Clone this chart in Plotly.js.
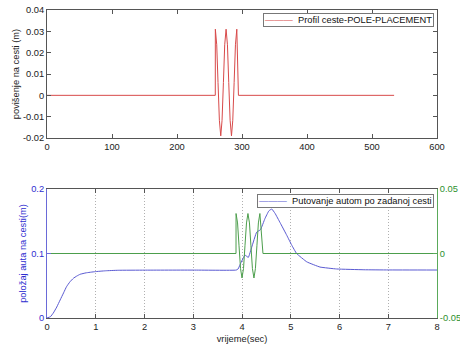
<!DOCTYPE html>
<html>
<head>
<meta charset="utf-8">
<script src="https://cdn.plot.ly/plotly-3.0.1.min.js"></script>
<style>html,body{margin:0;padding:0;background:#fff;}#chart{width:460px;height:347px;}</style>
</head>
<body>
<div id="chart"></div>
<script>
// Top: road profile (sample index vs height)
const roadX = [0, 258.9, 259, 261.1, 263.1, 265.2, 267.3, 269.3, 271.4, 273.4, 275.5, 277.6, 279.6, 281.7, 283.8, 285.8, 287.9, 289.9, 292, 294.5, 534];
const roadY = [0, 0, 0.031, 0.0237, 0.006, -0.0117, -0.019, -0.0117, 0.006, 0.0237, 0.031, 0.0237, 0.006, -0.0117, -0.019, -0.0117, 0.006, 0.0237, 0.031, 0, 0];

// Bottom: car position (left axis)
const carT = [0, 0.07, 0.13, 0.2, 0.27, 0.34, 0.40, 0.47, 0.54, 0.61, 0.68, 0.8, 0.98, 1.2, 1.46, 2, 3, 3.88, 3.92, 3.98, 4.06, 4.13, 4.2, 4.3, 4.38, 4.47, 4.55, 4.61, 4.68, 4.78, 4.92, 5.02, 5.12, 5.33, 5.6, 5.94, 6.5, 7, 8];
const carY = [0, 0.002, 0.0078, 0.017, 0.028, 0.039, 0.0485, 0.056, 0.0615, 0.065, 0.0678, 0.070, 0.0718, 0.0732, 0.0740, 0.0742, 0.0743, 0.0743, 0.076, 0.086, 0.0975, 0.094, 0.11, 0.133, 0.137, 0.154, 0.166, 0.169, 0.162, 0.148, 0.128, 0.113, 0.100, 0.087, 0.079, 0.076, 0.0748, 0.0745, 0.0744];

// Bottom: road profile in time (right axis)
const roadT = [0, 3.877, 3.878, 3.909, 3.939, 3.970, 4.0, 4.031, 4.061, 4.092, 4.122, 4.153, 4.183, 4.214, 4.245, 4.275, 4.306, 4.336, 4.367, 4.43, 8];
const roadTY = [0, 0, 0.031, 0.0237, 0.006, -0.0117, -0.019, -0.0117, 0.006, 0.0237, 0.031, 0.0237, 0.006, -0.0117, -0.019, -0.0117, 0.006, 0.0237, 0.031, 0, 0];

const topYTicks = [-0.02, -0.01, 0, 0.01, 0.02, 0.03, 0.04];
const topYLabels = ['-0.02', '-0.01', '0', '0.01', '0.02', '0.03', '0.04'];
const leftTicks = [0, 0.1, 0.2];
const leftLabels = ['0', '0.1', '0.2'];
const rightTicks = [-0.05, 0, 0.05];
const rightLabels = ['-0.05', '0', '0.05'];
const legendTop = 'Profil ceste-POLE-PLACEMENT';
const legendBottom = 'Putovanje autom po zadanoj cesti';

const FONT = 'Liberation Sans, Arial, sans-serif';
const FS = 9.3;
const blue = '#5a5ad2', green = '#4c9e4c', red = '#d84a4a';

const traces = [
  {x: roadX, y: roadY, xaxis: 'x', yaxis: 'y', type: 'scatter', mode: 'lines',
   line: {color: red, width: 1}, name: legendTop, showlegend: false},
  {x: carT, y: carY, xaxis: 'x2', yaxis: 'y2', type: 'scatter', mode: 'lines',
   line: {color: blue, width: 1, shape: 'spline', smoothing: 0.3}, name: legendBottom, showlegend: false},
  {x: roadT, y: roadTY, xaxis: 'x2', yaxis: 'y3', type: 'scatter', mode: 'lines',
   line: {color: green, width: 1}, showlegend: false}
];

const axCommon = {ticks: 'inside', ticklen: 4, showline: true, zeroline: false, showgrid: false,
  tickfont: {family: FONT, size: FS, color: '#222'}};

function legendAnn(label, color, y) {
  return {xref: 'paper', yref: 'paper', x: 0.992, xanchor: 'right', y: y, yanchor: 'top',
    text: '<span style="color:' + color + '">\u2014\u2014\u2014</span>\u00a0\u00a0' + label,
    showarrow: false, bgcolor: '#fff', bordercolor: '#777', borderwidth: 1, borderpad: 1,
    font: {family: FONT, size: FS, color: '#111'}};
}

const layout = {
  width: 460, height: 347,
  margin: {l: 47, r: 23, t: 10, b: 29},
  paper_bgcolor: '#fff', plot_bgcolor: '#fff',
  font: {family: FONT, size: FS, color: '#222'},
  showlegend: false,
  xaxis: Object.assign({}, axCommon, {domain: [0, 1], anchor: 'y', range: [0, 600], dtick: 100, tick0: 0,
    mirror: 'ticks', linecolor: '#555', tickcolor: '#555'}),
  yaxis: Object.assign({}, axCommon, {domain: [0.5844, 1], anchor: 'x', range: [-0.02, 0.04],
    tickvals: topYTicks, ticktext: topYLabels, mirror: 'ticks', linecolor: '#555', tickcolor: '#555',
    title: {text: 'povišenje na cesti (m)', font: {family: FONT, size: FS, color: '#222'}, standoff: 1}}),
  xaxis2: Object.assign({}, axCommon, {domain: [0, 1], anchor: 'y2', range: [0, 8], dtick: 1, tick0: 0,
    mirror: 'ticks', linecolor: '#555', tickcolor: '#555',
    showgrid: true, gridcolor: '#b0b0b0', griddash: '1px,2px', gridwidth: 1,
    title: {text: 'vrijeme(sec)', font: {family: FONT, size: FS, color: '#222'}, standoff: 4}}),
  yaxis2: Object.assign({}, axCommon, {domain: [0, 0.4188], anchor: 'x2', range: [0, 0.2],
    tickvals: leftTicks, ticktext: leftLabels, linecolor: '#6a6ad8', tickcolor: '#6a6ad8',
    tickfont: {family: FONT, size: FS, color: '#2e2ed0'},
    title: {text: 'položaj auta na cesti(m)', font: {family: FONT, size: FS, color: '#2e2ed0'}, standoff: 2}}),
  yaxis3: Object.assign({}, axCommon, {overlaying: 'y2', anchor: 'x2', side: 'right', range: [-0.05, 0.05],
    tickvals: rightTicks, ticktext: rightLabels, linecolor: '#5aaa5a', tickcolor: '#5aaa5a',
    tickfont: {family: FONT, size: FS, color: '#2e902e'}}),
  annotations: [legendAnn(legendTop, red, 0.99), legendAnn(legendBottom, blue, 0.4026)]
};

Plotly.newPlot('chart', traces, layout, {displayModeBar: false, staticPlot: true});
</script>
</body>
</html>
